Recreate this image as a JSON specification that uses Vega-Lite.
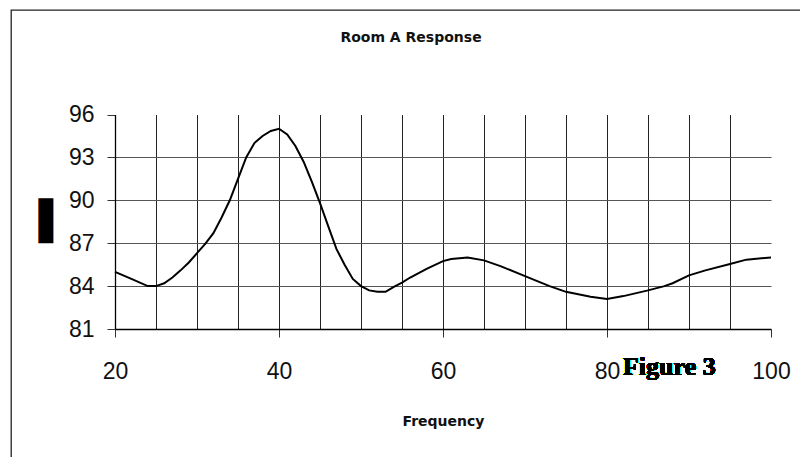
{
  "$schema": "https://vega.github.io/schema/vega-lite/v6.json",
  "width": 800,
  "height": 460,
  "autosize": {"type": "none"},
  "padding": {"left": 11, "top": 10, "right": 0, "bottom": 0},
  "background": "white",
  "config": {
    "view": {"stroke": "#222", "strokeWidth": 1.3},
    "font": "Liberation Sans"
  },
  "title": {
    "text": "Room A Response",
    "font": "DejaVu Sans",
    "fontSize": 14,
    "fontWeight": "bold",
    "color": "#111",
    "anchor": "middle",
    "offset": -35
  },
  "data": {
    "values": [
      {"frequency": 20, "response": 85.0},
      {"frequency": 22, "response": 84.5},
      {"frequency": 24, "response": 84.0},
      {"frequency": 25, "response": 84.0},
      {"frequency": 26, "response": 84.2},
      {"frequency": 27, "response": 84.6},
      {"frequency": 28, "response": 85.1},
      {"frequency": 29, "response": 85.65},
      {"frequency": 30, "response": 86.3},
      {"frequency": 31, "response": 86.95},
      {"frequency": 32, "response": 87.7},
      {"frequency": 33, "response": 88.8},
      {"frequency": 34, "response": 90.0},
      {"frequency": 35, "response": 91.5},
      {"frequency": 36, "response": 93.0},
      {"frequency": 37, "response": 94.0},
      {"frequency": 38, "response": 94.5},
      {"frequency": 39, "response": 94.85},
      {"frequency": 40, "response": 95.0},
      {"frequency": 41, "response": 94.6},
      {"frequency": 42, "response": 93.8},
      {"frequency": 43, "response": 92.7},
      {"frequency": 44, "response": 91.3},
      {"frequency": 45, "response": 89.8},
      {"frequency": 46, "response": 88.2},
      {"frequency": 47, "response": 86.6},
      {"frequency": 48, "response": 85.5},
      {"frequency": 49, "response": 84.5},
      {"frequency": 50, "response": 84.0},
      {"frequency": 51, "response": 83.7},
      {"frequency": 52, "response": 83.6},
      {"frequency": 53, "response": 83.6},
      {"frequency": 54, "response": 83.95},
      {"frequency": 55, "response": 84.25},
      {"frequency": 56, "response": 84.6},
      {"frequency": 58, "response": 85.2},
      {"frequency": 60, "response": 85.75},
      {"frequency": 61, "response": 85.9},
      {"frequency": 63, "response": 86.0},
      {"frequency": 65, "response": 85.8},
      {"frequency": 67, "response": 85.4},
      {"frequency": 70, "response": 84.7},
      {"frequency": 73, "response": 84.0},
      {"frequency": 75, "response": 83.6},
      {"frequency": 78, "response": 83.25},
      {"frequency": 80, "response": 83.1},
      {"frequency": 82, "response": 83.3},
      {"frequency": 85, "response": 83.7},
      {"frequency": 87, "response": 84.0},
      {"frequency": 88, "response": 84.2},
      {"frequency": 90, "response": 84.75},
      {"frequency": 92, "response": 85.1},
      {"frequency": 95, "response": 85.55},
      {"frequency": 97, "response": 85.85},
      {"frequency": 100, "response": 86.0}
    ]
  },
  "resolve": {"axis": {"x": "independent"}},
  "layer": [
    {
      "mark": {"type": "line", "color": "black", "strokeWidth": 2},
      "encoding": {
        "x": {
          "field": "frequency",
          "type": "quantitative",
          "scale": {"domain": [20, 100], "range": [104, 760], "nice": false},
          "axis": {
            "orient": "bottom",
            "values": [20, 40, 60, 80, 100],
            "title": "Frequency",
            "titleFont": "DejaVu Sans",
            "titleFontSize": 14,
            "titleFontWeight": "bold",
            "titleColor": "#111",
            "titleY": 96,
            "titleBaseline": "alphabetic",
            "offset": -141,
            "domainColor": "black",
            "domainWidth": 1.3,
            "tickColor": "#333",
            "tickSize": 8,
            "grid": false,
            "labelFont": "Liberation Sans",
            "labelFontSize": 23,
            "labelColor": "#111",
            "labelPadding": 23,
            "labelFlush": false,
            "labelOverlap": false
          }
        },
        "y": {
          "field": "response",
          "type": "quantitative",
          "scale": {"domain": [81, 96], "range": [319, 104.5], "nice": false, "zero": false},
          "axis": {
            "values": [81, 84, 87, 90, 93, 96],
            "title": "▌",
            "titleFont": "DejaVu Sans",
            "titleFontSize": 38,
            "titleFontWeight": "normal",
            "titleAngle": 0,
            "titleX": -62.5,
            "titleY": 212.5,
            "titleAlign": "center",
            "titleBaseline": "middle",
            "titleColor": "black",
            "offset": -104,
            "domainColor": "black",
            "domainWidth": 1.3,
            "tickColor": "#333",
            "tickSize": 8,
            "grid": true,
            "gridColor": "#555",
            "gridOpacity": {"condition": {"test": "datum.value === 96 || datum.value === 81", "value": 0}, "value": 1},
            "labelFont": "Liberation Sans",
            "labelFontSize": 23,
            "labelPadding": 13,
            "labelColor": "#111",
            "labelOverlap": false
          }
        }
      }
    },
    {
      "mark": {
        "type": "text",
        "text": "Figure 3",
        "font": "Liberation Serif",
        "fontSize": 26,
        "fontWeight": "bold",
        "align": "left",
        "baseline": "alphabetic",
        "dy": 46,
        "color": "black"
      },
      "encoding": {
        "x": {
          "datum": 81.95,
          "type": "quantitative",
          "axis": {
            "orient": "top",
            "values": [25, 30, 35, 40, 45, 50, 55, 60, 65, 70, 75, 80, 85, 90, 95],
            "title": null,
            "domain": false,
            "ticks": false,
            "labels": false,
            "grid": true,
            "gridColor": "#222"
          }
        },
        "y": {"datum": 81, "type": "quantitative"}
      }
    }
  ]
}
